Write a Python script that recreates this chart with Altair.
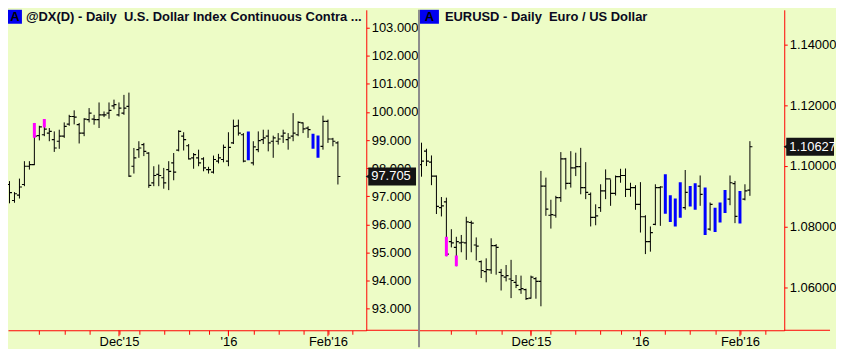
import json
import altair as alt
import pandas as pd

BG = "#EDFCC6"
RED = "#FF0000"
FONT = "Liberation Sans"

# ---------------- @DX(D) (left panel) ----------------
dx_t = list(range(0, 68))
dx_high = [97.89, 97.54, 97.15, 97.63, 98.25, 98.25, 99.61, 99.51, 99.75, 99.43,
           99.31, 99.37, 99.63, 99.90, 100.06, 99.61, 99.78, 100.14, 99.90, 100.34,
           100.02, 100.34, 100.44, 100.34, 100.61, 100.69, 98.72, 98.96, 98.90, 98.57,
           98.07, 98.13, 98.01, 98.25, 98.54, 99.35, 99.28, 98.86, 98.54, 98.66,
           98.39, 98.05, 98.45, 98.51, 98.84, 99.28, 99.73, 99.73, 99.25, 99.31,
           98.96, 99.31, 99.37, 99.37, 99.16, 99.25, 99.37, 99.25, 99.96, 99.67,
           99.63, 99.49, 99.23, 99.16, 99.87, 99.73, 99.08, 98.96]
dx_low = [97.39, 96.75, 96.77, 96.92, 97.36, 97.95, 98.11, 98.99, 99.14, 98.96,
          98.58, 98.69, 99.08, 99.51, 99.56, 98.88, 99.14, 99.63, 99.55, 99.43,
          99.82, 99.76, 100.10, 99.84, 99.90, 97.69, 97.81, 98.37, 98.43, 97.30,
          97.36, 97.36, 97.27, 97.22, 97.57, 98.60, 98.63, 98.31, 97.98, 98.07,
          97.89, 97.81, 97.81, 98.17, 98.21, 98.07, 98.86, 99.16, 98.21, 98.28,
          98.10, 98.57, 98.86, 98.60, 98.37, 98.84, 98.90, 98.66, 98.96, 99.14,
          99.25, 99.08, 98.69, 98.37, 98.66, 98.90, 98.78, 97.42]
dx_open = [97.77, 97.42, 96.85, 97.04, 97.42, 98.07, 98.13, 99.16, 99.19, 99.25,
           99.02, 98.96, 99.14, 99.57, 99.84, 99.55, 99.25, 99.73, 99.75, 99.73,
           99.90, 99.96, 100.22, 99.90, 99.96, 100.20, 98.07, 98.66, 98.84, 98.54,
           97.48, 97.78, 97.66, 97.95, 98.19, 98.64, 99.14, 98.80, 98.37, 98.37,
           98.33, 97.95, 97.86, 98.25, 98.31, 98.25, 98.90, 99.51, 99.19, 98.40,
           98.19, 98.66, 99.02, 99.14, 98.96, 98.96, 99.14, 99.02, 99.14, 99.19,
           99.61, 99.43, 99.20, 99.10, 98.78, 99.67, 99.04, 98.90]
dx_close = [97.45, 97.13, 97.09, 97.33, 98.07, 98.13, 99.14, 99.47, 99.39, 99.31,
            98.72, 99.14, 99.49, 99.84, 99.82, 99.25, 99.75, 99.96, 99.73, 99.90,
            99.90, 100.06, 100.26, 100.14, 100.14, 97.72, 98.37, 98.72, 98.60, 97.39,
            97.74, 97.74, 97.48, 97.89, 97.86, 99.31, 99.02, 98.33, 98.48, 98.19,
            98.01, 97.95, 98.31, 98.37, 98.74, 98.74, 99.49, 99.25, 98.25, 99.20,
            98.76, 98.98, 99.08, 98.90, 99.08, 99.04, 99.25, 99.08, 99.25, 99.63,
            99.40, 99.37, 98.75, 98.45, 99.67, 99.04, 98.96, 97.705]
dx_blue_t = [49, 62, 63]
dx_mag_t = [6, 8]
dx_mag_lo = [99.08, 99.45]
dx_mag_hi = [99.61, 99.75]
dx_yticks = [93, 94, 95, 96, 97, 98, 99, 100, 101, 102, 103]
dx_title = "@DX(D) - Daily \u00a0U.S. Dollar Index Continuous Contra ..."
dx_last = ["97.705"]

# ---------------- EURUSD (right panel) ----------------
eu_t = list(range(1, 68))
eu_high = [1.1076, 1.1056, 1.1034, 1.0968, 1.0897, 1.0895, 1.0791, 1.0766, 1.0772, 1.0832,
           1.0819, 1.0764, 1.0688, 1.0695, 1.0761, 1.0742, 1.0660, 1.0673, 1.0690, 1.0640,
           1.0638, 1.0595, 1.0638, 1.0633, 1.0983, 1.0961, 1.0888, 1.0901, 1.1045, 1.1026,
           1.1048, 1.1043, 1.1059, 1.1012, 1.0912, 1.0873, 1.0939, 1.0988, 1.0955, 1.0968,
           1.0990, 1.0991, 1.0944, 1.0936, 1.0946, 1.0837, 1.0800, 1.0939, 1.0933, 1.0972,
           1.0903, 1.0892, 1.0946, 1.0986, 1.0933, 1.0942, 1.0968, 1.0928, 1.0879, 1.0862,
           1.0879, 1.0920, 1.0968, 1.0950, 1.0917, 1.0939, 1.1081]
eu_low = [1.0964, 1.0999, 1.0936, 1.0841, 1.0833, 1.0702, 1.0731, 1.0669, 1.0715, 1.0690,
          1.0715, 1.0688, 1.0630, 1.0616, 1.0644, 1.0641, 1.0589, 1.0619, 1.0564, 1.0597,
          1.0578, 1.0558, 1.0562, 1.0562, 1.0537, 1.0835, 1.0793, 1.0829, 1.0881, 1.0922,
          1.0928, 1.0966, 1.0906, 1.0890, 1.0800, 1.0804, 1.0848, 1.0890, 1.0868, 1.0902,
          1.0944, 1.0897, 1.0898, 1.0855, 1.0780, 1.0709, 1.0717, 1.0804, 1.0802, 1.0842,
          1.0815, 1.0800, 1.0829, 1.0855, 1.0866, 1.0855, 1.0868, 1.0772, 1.0786, 1.0782,
          1.0813, 1.0844, 1.0870, 1.0811, 1.0810, 1.0886, 1.0901]
eu_open = [1.1004, 1.1048, 1.1012, 1.0966, 1.0862, 1.0881, 1.0750, 1.0731, 1.0746, 1.0746,
           1.0813, 1.0739, 1.0684, 1.0651, 1.0657, 1.0737, 1.0649, 1.0633, 1.0627, 1.0616,
           1.0592, 1.0592, 1.0564, 1.0628, 1.0619, 1.0933, 1.0837, 1.0837, 1.0895, 1.1023,
           1.0942, 1.0993, 1.0997, 1.0928, 1.0906, 1.0830, 1.0862, 1.0917, 1.0957, 1.0909,
           1.0964, 1.0968, 1.0922, 1.0928, 1.0873, 1.0832, 1.0750, 1.0807, 1.0928, 1.0930,
           1.0850, 1.0820, 1.0810, 1.0862, 1.0920, 1.0925, 1.0933, 1.0900, 1.0791, 1.0850,
           1.0820, 1.0850, 1.0890, 1.0941, 1.0900, 1.0890, 1.0920]
eu_close = [1.1015, 1.1015, 1.0966, 1.0866, 1.0868, 1.0709, 1.0746, 1.0750, 1.0748, 1.0815,
            1.0811, 1.0735, 1.0655, 1.0658, 1.0737, 1.0731, 1.0638, 1.0638, 1.0622, 1.0606,
            1.0595, 1.0562, 1.0633, 1.0619, 1.0933, 1.0857, 1.0839, 1.0895, 1.1023, 1.0942,
            1.0993, 1.0997, 1.0928, 1.0912, 1.0830, 1.0835, 1.0917, 1.0957, 1.0909, 1.0964,
            1.0968, 1.0922, 1.0928, 1.0873, 1.0832, 1.0750, 1.0780, 1.0928, 1.0930, 1.0850,
            1.0820, 1.0810, 1.0930, 1.0912, 1.0870, 1.0860, 1.0906, 1.0790, 1.0873, 1.0790,
            1.0870, 1.0850, 1.0944, 1.0833, 1.0820, 1.0917, 1.10627]
eu_blue_t = [50, 51, 52, 53, 55, 56, 58, 60, 61, 62, 65]
eu_mag_t = [6, 8]
eu_mag_lo = [1.0702, 1.0669]
eu_mag_hi = [1.0766, 1.0704]
eu_yticks = [1.06, 1.08, 1.10, 1.12, 1.14]
eu_title = "EURUSD - Daily \u00a0Euro / US Dollar"
eu_last = ["1.10627"]

# ---------------- shared time axis ----------------
minor_ticks = [7, 12, 17, 23, 27, 32, 37, 41, 45, 50, 55, 60, 65, 70]
major_ticks = [23, 45, 65]
major_labels = ["Dec'15", "'16", "Feb'16"]

H = 322


def label_expr():
    expr = "''"
    for v, s in reversed(list(zip(major_ticks, major_labels))):
        expr = f"datum.value == {v} ? {json.dumps(s)} : ({expr})"
    return expr


def panel(t, hi, lo, op, cl, blue_t, mag_t, mag_lo, mag_hi, W, xdom, ydom, yticks, yfmt,
          title, box_x0, box_x1, text_x, last_label, ext, separator):
    df = pd.DataFrame({"t": t, "high": hi, "low": lo, "open": op, "close": cl})
    df["blue"] = df["t"].isin(blue_t)
    plain = df[~df["blue"]]
    blue = df[df["blue"]]
    mag = pd.DataFrame({"t": mag_t, "lo": mag_lo, "hi": mag_hi})

    xs = alt.Scale(domain=xdom, nice=False, zero=False)
    ys = alt.Scale(domain=ydom, nice=False, zero=False)
    xax = alt.Axis(values=minor_ticks, labelExpr=label_expr(), tickSize=4, tickColor=RED,
                   domainColor=RED, labelColor="black", labelFontSize=13, labelFont=FONT,
                   labelPadding=1, grid=False, title=None, labelFlush=False, labelOverlap=False)
    yax = alt.Axis(orient="right", values=yticks, format=yfmt, tickSize=3, tickColor=RED,
                   domainColor=RED, labelColor="black", labelFontSize=13, labelFont=FONT,
                   labelPadding=2, grid=False, title=None, labelOverlap=False)

    def X(f="t"):
        return alt.X(f"{f}:Q", scale=xs, axis=xax)

    def Y(f):
        return alt.Y(f"{f}:Q", scale=ys, axis=yax)

    bars = alt.Chart(plain).mark_rule(color="black", strokeWidth=1, clip=True).encode(
        x=X(), y=Y("low"), y2="high")
    opens = alt.Chart(plain).mark_rule(color="black", strokeWidth=1.2, xOffset=-2.5,
                                       clip=True).encode(x=X(), x2="t", y=Y("open"))
    closes = alt.Chart(plain).mark_rule(color="black", strokeWidth=1.2, x2Offset=2.5,
                                        clip=True).encode(x=X(), x2="t", y=Y("close"))
    bluebars = alt.Chart(blue).mark_rule(color="#0000FF", strokeWidth=3, clip=True).encode(
        x=X(), y=Y("low"), y2="high")
    magbars = alt.Chart(mag).mark_rule(color="#FF00FF", strokeWidth=3, clip=True).encode(
        x=X(), y=Y("lo"), y2="hi")

    majors = alt.Chart(pd.DataFrame({"t": major_ticks})).mark_rule(color=RED).encode(
        x=X(), y=alt.value(H), y2=alt.value(H + 6))
    xline = alt.Chart(pd.DataFrame({"s": [title]})).mark_rule(color=RED).encode(
        x=alt.value(W), x2=alt.value(W + ext), y=alt.value(H))

    lab = pd.DataFrame({"v": [cl[-1]], "s": last_label})
    lbox = alt.Chart(lab).mark_rect(color="#141414", yOffset=-9, y2Offset=9).encode(
        x=alt.value(W + 2), x2=alt.value(W + 50), y=Y("v"), y2="v")
    larrow = alt.Chart(lab).mark_point(shape="triangle-left", filled=True, size=70,
                                       color="#141414", opacity=1).encode(
        x=alt.value(W + 3), y=Y("v"))
    ltext = alt.Chart(lab).mark_text(align="left", baseline="middle", color="white",
                                     fontSize=13, font=FONT).encode(
        x=alt.value(W + 5), y=Y("v"), text="s:N")

    tdf = pd.DataFrame({"s": [title]})
    abox = alt.Chart(tdf).mark_rect(color="#0000F0").encode(
        x=alt.value(box_x0), x2=alt.value(box_x1), y=alt.value(0), y2=alt.value(14))
    atext = alt.Chart(tdf).mark_text(text="A", fontWeight="bold", fontSize=13, font=FONT,
                                     color="black", align="center", baseline="middle").encode(
        x=alt.value((box_x0 + box_x1) / 2), y=alt.value(7.5))
    ttext = alt.Chart(tdf).mark_text(fontWeight="bold", fontSize=13, font=FONT,
                                     color="#0a0a20", align="left", baseline="middle").encode(
        x=alt.value(text_x), y=alt.value(7.5), text="s:N")

    layers = [bars, opens, closes, bluebars, magbars, majors, xline, lbox, larrow, ltext,
              abox, atext, ttext]
    if separator:
        sep = alt.Chart(tdf).mark_rule(color="#8C8C8C", strokeWidth=2).encode(
            x=alt.value(0), y=alt.value(0), y2=alt.value(H + 17))
        layers.append(sep)
    return alt.layer(*layers).properties(width=W, height=H)


left = panel(dx_t, dx_high, dx_low, dx_open, dx_close, dx_blue_t, dx_mag_t, dx_mag_lo,
             dx_mag_hi, 360, [0.7, 72.7], [92.231, 103.638], dx_yticks, ".3f",
             dx_title, 0, 14, 18, dx_last, 53, False)
right = panel(eu_t, eu_high, eu_low, eu_open, eu_close, eu_blue_t, eu_mag_t, eu_mag_lo,
              eu_mag_hi, 367, [0.5, 73.9], [1.04580, 1.15138], eu_yticks, ".5f",
              eu_title, 1, 20, 26, eu_last, 46, True)

chart = alt.hconcat(left, right, spacing=53, bounds="flush").properties(
    padding=0, background=BG
).configure_view(stroke=None, fill=BG)

chart.save("out.html", embed_options={"renderer": "svg", "actions": False})
